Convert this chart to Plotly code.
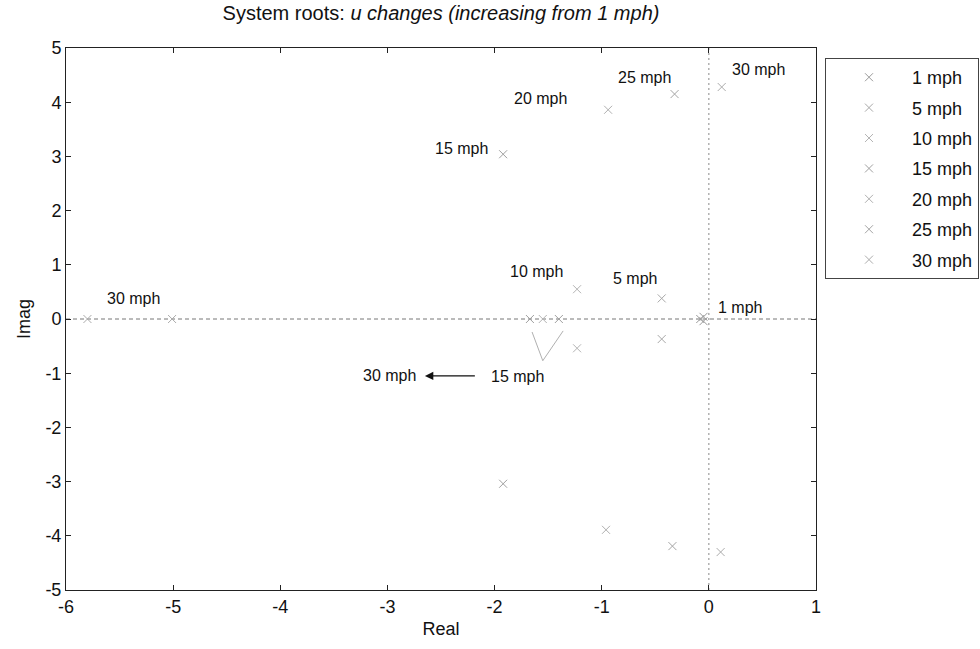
import plotly.graph_objects as go

speeds = ["1 mph", "5 mph", "10 mph", "15 mph", "20 mph", "25 mph", "30 mph"]
real_parts = [
    [-0.08, -0.05, -0.05],
    [-0.44, -0.44],
    [-1.23, -1.23, -1.55],
    [-1.92, -1.92, -1.67, -1.40],
    [-0.94, -0.96],
    [-0.32, -0.34],
    [0.12, 0.11, -5.80, -5.01],
]
imag_parts = [
    [0.0, 0.04, -0.04],
    [0.38, -0.37],
    [0.55, -0.54, 0.0],
    [3.04, -3.04, 0.0, 0.0],
    [3.86, -3.89],
    [4.15, -4.19],
    [4.28, -4.30, 0.0, 0.0],
]
marker_colors = ["#9a9a9a", "#a8a8a8", "#b4b4b4", "#a0a0a0", "#b0b0b0", "#a4a4a4", "#acacac"]

x_ticks = [-6, -5, -4, -3, -2, -1, 0, 1]
x_tick_text = ["-6", "-5", "-4", "-3", "-2", "-1", "0", "1"]
y_ticks = [-5, -4, -3, -2, -1, 0, 1, 2, 3, 4, 5]
y_tick_text = ["-5", "-4", "-3", "-2", "-1", "0", "1", "2", "3", "4", "5"]

label_text = ["1 mph", "5 mph", "10 mph", "15 mph", "20 mph", "25 mph", "30 mph", "30 mph"]
label_x = [0.29, -0.69, -1.61, -2.31, -1.57, -0.60, 0.46, -5.37]
label_y = [0.22, 0.74, 0.87, 3.15, 4.06, 4.46, 4.61, 0.37]

v_x = [-1.65, -1.55, -1.36]
v_y = [-0.24, -0.77, -0.22]

arrow_tail = (-2.17, -1.05)
arrow_head = (-2.65, -1.05)
arrow_labels = ["30 mph", "15 mph"]
arrow_label_x = [-2.98, -1.79]
arrow_label_y = [-1.05, -1.07]

FONT = "Liberation Sans, Arial"

fig = go.Figure()

for i, s in enumerate(speeds):
    fig.add_trace(go.Scatter(
        x=real_parts[i], y=imag_parts[i], mode="markers",
        name=s, legendgroup=s,
        marker=dict(symbol="x-thin-open", size=8, color=marker_colors[i],
                    line=dict(width=1, color=marker_colors[i])),
    ))

fig.add_trace(go.Scatter(x=v_x, y=v_y, mode="lines", showlegend=False,
                         line=dict(color="#b0b0b0", width=1), hoverinfo="skip"))

fig.add_shape(type="line", x0=-6, x1=1, y0=0, y1=0, xref="x", yref="y",
              line=dict(color="#777", width=1, dash="4px,3px"), layer="below")
fig.add_shape(type="line", x0=0, x1=0, y0=-5, y1=5, xref="x", yref="y",
              line=dict(color="#888", width=1, dash="2px,3px"), layer="below")

for t, x, y in zip(label_text, label_x, label_y):
    fig.add_annotation(x=x, y=y, text=t, showarrow=False,
                       font=dict(family=FONT, size=16, color="#111"))

for t, x, y in zip(arrow_labels, arrow_label_x, arrow_label_y):
    fig.add_annotation(x=x, y=y, text=t, showarrow=False,
                       font=dict(family=FONT, size=16, color="#111"))

fig.add_annotation(x=arrow_head[0], y=arrow_head[1], ax=arrow_tail[0], ay=arrow_tail[1],
                   xref="x", yref="y", axref="x", ayref="y", text="",
                   showarrow=True, arrowhead=2, arrowsize=1.4, arrowwidth=1.2,
                   arrowcolor="#111")

axis_common = dict(showgrid=False, zeroline=False, showline=True, linecolor="#222",
                   linewidth=1, mirror="ticks", ticks="inside", ticklen=5,
                   tickcolor="#222", tickmode="array",
                   tickfont=dict(family=FONT, size=18, color="#111"))

fig.update_xaxes(range=[-6, 1], tickvals=x_ticks, ticktext=x_tick_text,
                 title=dict(text="Real", standoff=6,
                            font=dict(family=FONT, size=18, color="#111")),
                 **axis_common)
fig.update_yaxes(range=[-5, 5], tickvals=y_ticks, ticktext=y_tick_text,
                 title=dict(text="Imag", standoff=10,
                            font=dict(family=FONT, size=18, color="#111")),
                 **axis_common)

fig.update_layout(
    width=980, height=649,
    margin=dict(l=66, r=164, t=48, b=59, autoexpand=False),
    paper_bgcolor="white", plot_bgcolor="white",
    title=dict(text="System roots: <i>u changes (increasing from 1 mph)</i>",
               x=441 / 980, xanchor="center", y=1 - 13 / 649, yanchor="middle",
               font=dict(family=FONT, size=20, color="#111")),
    legend=dict(x=1.012, xanchor="left", y=0.9815, yanchor="top",
                bordercolor="#444", borderwidth=1, bgcolor="white",
                tracegroupgap=4, itemwidth=76,
                font=dict(family=FONT, size=18, color="#111")),
    showlegend=True,
)

fig.write_html("out.html")
